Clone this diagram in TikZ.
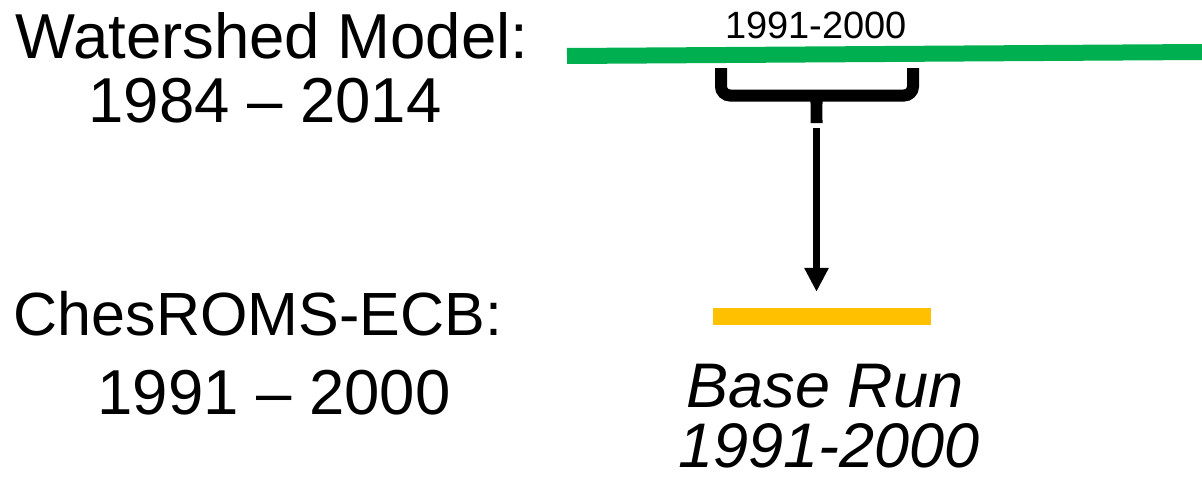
\documentclass[tikz,border=0pt]{standalone}
\usepackage{fontspec}
\setmainfont{Liberation Sans}
\usetikzlibrary{arrows.meta}
\definecolor{wsgreen}{HTML}{00B050}
\definecolor{runorange}{HTML}{FFC000}
\tikzset{
  big/.style={inner sep=0pt, anchor=base, font=\fontsize{63.5}{63.5}\selectfont},
  bigit/.style={inner sep=0pt, anchor=base, font=\fontsize{63}{63}\selectfont\itshape},
  small/.style={inner sep=0pt, anchor=base, font=\fontsize{38}{38}\selectfont},
  bracestyle/.style={line width=12pt, black, line cap=butt},
  flow/.style={line width=7pt, black, -{Triangle[width=23pt,length=24pt]}}
}
\begin{document}
\begin{tikzpicture}[x=1pt,y=-1pt]
\useasboundingbox (0,0) rectangle (1202,482);
% left labels
\node[big] (ws) at (272,58) {Watershed Model:};
\node[big] (wsyears) at (265,122) {1984 -- 2014};
\node[big, font=\fontsize{61}{61}\selectfont] (ches) at (258,335) {ChesROMS-ECB:};
\node[big] (chesyears) at (274,414) {1991 -- 2000};
% green timeline
\draw[wsgreen, line width=16pt] (567,56) -- (1202,52);
\node[small] (period) at (816,38) {1991-2000};
% brace
\draw[bracestyle, rounded corners=9pt] (721,68) -- (721,95.5) -- (913,95.5) -- (913,68);
\fill[black] (809.5,95) .. controls (811,101) and (810.5,108) .. (810.5,123) -- (822.5,123) .. controls (822.5,108) and (822,101) .. (823.5,95) -- cycle;
\coordinate (braceTip) at (816.5,123);
% orange base run bar
\node[fill=runorange, minimum width=218pt, minimum height=17pt, inner sep=0pt] (bar) at (822,316.5) {};
\draw[flow] ([yshift=-5pt]braceTip) -- ([yshift=16pt]bar.north -| braceTip);
% base run labels
\node[bigit] (base) at (825,407) {Base Run};
\node[bigit] (baseyears) at (829,467) {1991-2000};
\end{tikzpicture}
\end{document}
